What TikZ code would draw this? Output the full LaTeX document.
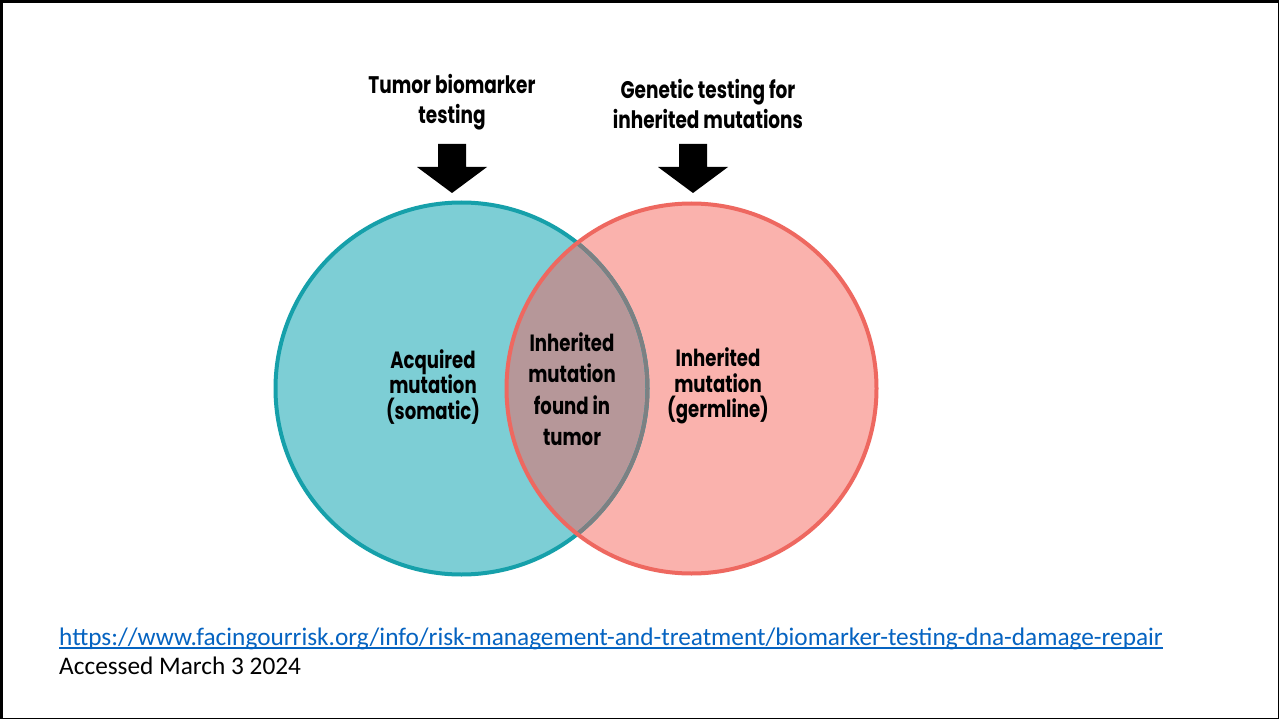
\documentclass[tikz,border=0pt]{standalone}
\usepackage{fontspec}
\setmainfont{Carlito}
\newfontfamily\futfont[FakeStretch=0.77]{Poppins Bold}
\usetikzlibrary{calc}
\definecolor{tealfill}{HTML}{7DCED5}
\definecolor{tealline}{HTML}{16A0AA}
\definecolor{pinkfill}{HTML}{FAB2AD}
\definecolor{redline}{HTML}{EE6860}
\definecolor{lensfill}{HTML}{B69799}
\definecolor{grayline}{HTML}{7D8082}
\definecolor{urlblue}{HTML}{0563C1}
\tikzset{
  lbl/.style={font=\futfont\fontsize{23.5}{25.5}\selectfont, align=center, inner sep=0pt, text=black},
  ttl/.style={font=\futfont\fontsize{24}{30}\selectfont, align=center, inner sep=0pt, text=black},
  ring/.style={line width=4pt},
  blockarrow/.style={fill=black},
  foot/.style={font=\fontsize{25.3}{29}\selectfont, anchor=base west, inner sep=0pt}
}
\begin{document}
\begin{tikzpicture}[x=1pt,y=-1pt]
\useasboundingbox (0,0) rectangle (1279,719);
\fill[white] (0,0) rectangle (1279,719);
% border
\draw[line width=3pt] (1.5,719) -- (1.5,1.5) -- (1279,1.5);
\draw[line width=1.5pt] (1278.25,0) -- (1278.25,718.25) -- (0,718.25);
% circles
\coordinate (L) at (461.5,388.5);
\coordinate (R) at (691.5,388.5);
\fill[tealfill] (L) circle (186pt);
\fill[pinkfill] (R) circle (185pt);
\begin{scope}
  \clip (L) circle (186pt);
  \fill[lensfill] (R) circle (185pt);
\end{scope}
\draw[ring, tealline] (L) circle (186pt);
\begin{scope}
  \clip (R) circle (185pt);
  \draw[ring, grayline] (L) circle (186pt);
\end{scope}
\draw[ring, redline] (R) circle (185pt);
% titles
\node[ttl] (t1) at (452,102) {Tumor biomarker\\testing};
\node[ttl] (t2) at (708,104) {Genetic testing for\\inherited mutations};
% arrows
\coordinate (a1) at (452,144);
\coordinate (a2) at (693,144);
\fill[blockarrow] ($(a1)+(-14,0)$) -- ($(a1)+(14,0)$) -- ($(a1)+(14,23)$) -- ($(a1)+(35,23)$) -- ($(a1)+(0,49)$) -- ($(a1)+(-35,23)$) -- ($(a1)+(-14,23)$) -- cycle;
\fill[blockarrow] ($(a2)+(-14,0)$) -- ($(a2)+(14,0)$) -- ($(a2)+(14,23)$) -- ($(a2)+(35,23)$) -- ($(a2)+(0,49)$) -- ($(a2)+(-35,23)$) -- ($(a2)+(-14,23)$) -- cycle;
% labels
\node[lbl] (somatic) at (433,387) {Acquired\\mutation\\(somatic)};
\node[lbl, font=\futfont\fontsize{23.5}{31.5}\selectfont] (both) at (572,389) {Inherited\\mutation\\found in\\tumor};
\node[lbl] (germ) at (718,386) {Inherited\\mutation\\(germline)};
% footer
\node[foot, text=urlblue] (url) at (59,645) {https://www.facingourrisk.org/info/risk-management-and-treatment/biomarker-testing-dna-damage-repair};
\draw[urlblue, line width=1.6pt] ($(url.base west)+(0,3)$) -- ($(url.base east)+(0,3)$);
\node[foot] (acc) at (59,674) {Accessed March 3 2024};
\end{tikzpicture}
\end{document}
